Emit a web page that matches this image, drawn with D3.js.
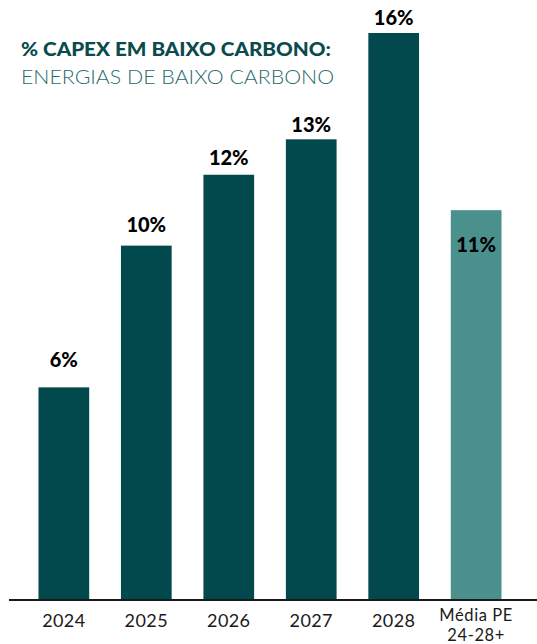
<!DOCTYPE html>
<html>
<head>
<meta charset="utf-8">
<script src="https://cdn.jsdelivr.net/npm/d3@7/dist/d3.min.js"></script>
<style>
  html, body { margin: 0; padding: 0; background: #ffffff; }
  svg { display: block; }
</style>
</head>
<body>
<svg id="chart" width="537" height="644"></svg>
<script>
// Share of capex in low-carbon energy, by year
const categories = ["2024", "2025", "2026", "2027", "2028", "Média PE|24-28+"];
const values = [6, 10, 12, 13, 16, 11];
const valueLabels = ["6%", "10%", "12%", "13%", "16%", "11%"];
const isAverage = [false, false, false, false, false, true];

const title = "% CAPEX EM BAIXO CARBONO:";
const subtitle = "ENERGIAS DE BAIXO CARBONO";

// gap (px) between the bar top and its value label baseline
const labelGap = [20, 14, 10, 7, 8, -42];

const W = 537, H = 644;
const svg = d3.select("#chart");

const baseline = 600;
const x = d3.scaleBand()
  .domain(categories)
  .range([22, 518])
  .paddingInner(0.385)
  .paddingOuter(0.2);

const y = d3.scaleLinear()
  .domain([0, 16])
  .range([baseline, 33]);

const dark = "#02494D";
const light = "#4A918E";

// bars
svg.append("g").selectAll("rect")
  .data(categories)
  .join("rect")
  .attr("x", d => x(d))
  .attr("width", x.bandwidth())
  .attr("y", (d, i) => y(values[i]))
  .attr("height", (d, i) => baseline - y(values[i]))
  .attr("fill", (d, i) => isAverage[i] ? light : dark);

// baseline axis
const axis = d3.axisBottom(x).tickSize(0).tickFormat("");
const gAxis = svg.append("g")
  .attr("transform", `translate(0,${baseline})`)
  .call(axis);
gAxis.select(".domain").remove();
gAxis.append("line")
  .attr("x1", 9).attr("x2", W)
  .attr("y1", 0).attr("y2", 0)
  .attr("stroke", "#1a1a1a")
  .attr("stroke-width", 2);

// category labels (two-line labels get one text element per line)
gAxis.selectAll(".tick").each(function(d) {
  const lines = d.split("|");
  const multi = lines.length > 1;
  lines.forEach((ln, k) => {
    d3.select(this).append("text")
      .attr("text-anchor", "middle")
      .attr("fill", "#1a1a1a")
      .attr("x", 0)
      .attr("y", (multi ? 21 : 27) + k * 20)
      .style("font-family", "Lato, 'Open Sans', sans-serif")
      .style("font-size", multi ? "16.5px" : "18px")
      .style("letter-spacing", multi ? "0.6px" : "0.4px")
      .text(ln);
  });
});

// value labels
svg.append("g").selectAll("text")
  .data(categories)
  .join("text")
  .attr("x", d => x(d) + x.bandwidth() / 2)
  .attr("y", (d, i) => y(values[i]) - labelGap[i])
  .attr("text-anchor", "middle")
  .attr("fill", "#000000")
  .style("font-family", "Lato, sans-serif")
  .style("font-weight", "900")
  .style("font-size", "20px")
  .text((d, i) => valueLabels[i]);

// title block
svg.append("text")
  .attr("x", 21).attr("y", 56)
  .attr("fill", "#0B4A4D")
  .attr("textLength", 310)
  .attr("lengthAdjust", "spacingAndGlyphs")
  .style("font-family", "Lato, sans-serif")
  .style("font-weight", "900")
  .style("font-size", "19px")
  .text(title);

svg.append("text")
  .attr("x", 21).attr("y", 84)
  .attr("fill", "#2A6B6B")
  .attr("textLength", 313)
  .attr("lengthAdjust", "spacingAndGlyphs")
  .style("font-family", "Lato, sans-serif")
  .style("font-weight", "300")
  .style("font-size", "19.5px")
  .text(subtitle);
</script>
</body>
</html>
